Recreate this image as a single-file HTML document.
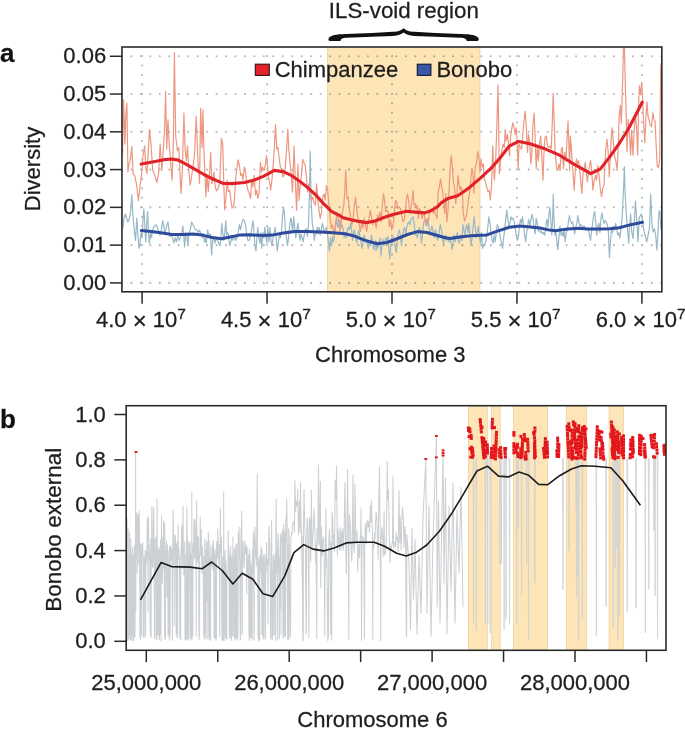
<!DOCTYPE html>
<html><head><meta charset="utf-8"><title>Figure</title>
<style>html,body{margin:0;padding:0;background:#fff;}body{width:685px;height:732px;overflow:hidden;font-family:"Liberation Sans",sans-serif;}svg{display:block;}text{stroke:#1e1e1e;stroke-width:0.28px;}</style>
</head><body>
<svg width="685" height="732" viewBox="0 0 685 732" font-family='"Liberation Sans", sans-serif'>
<clipPath id="ca"><rect x="121.95" y="47" width="539.9" height="244.8"/></clipPath>
<clipPath id="cb"><rect x="126.2" y="405.7" width="539.8" height="244.6"/></clipPath>
<g stroke="#b8b8b8" stroke-width="2.1" stroke-linecap="round" fill="none" stroke-dasharray="0.01 9.45">
<line x1="121.95" y1="282.9" x2="661.85" y2="282.9" stroke-dashoffset="0"/>
<line x1="121.95" y1="245.13" x2="661.85" y2="245.13" stroke-dashoffset="0"/>
<line x1="121.95" y1="207.36" x2="661.85" y2="207.36" stroke-dashoffset="0"/>
<line x1="121.95" y1="169.59" x2="661.85" y2="169.59" stroke-dashoffset="0"/>
<line x1="121.95" y1="131.82" x2="661.85" y2="131.82" stroke-dashoffset="0"/>
<line x1="121.95" y1="94.05" x2="661.85" y2="94.05" stroke-dashoffset="0"/>
<line x1="121.95" y1="56.28" x2="661.85" y2="56.28" stroke-dashoffset="0"/>
<line x1="142.1" y1="291.8" x2="142.1" y2="47" stroke-dasharray="0.01 9.44" stroke-dashoffset="0.49"/>
<line x1="267.05" y1="291.8" x2="267.05" y2="47" stroke-dasharray="0.01 9.44" stroke-dashoffset="0.49"/>
<line x1="392" y1="291.8" x2="392" y2="47" stroke-dasharray="0.01 9.44" stroke-dashoffset="0.49"/>
<line x1="516.95" y1="291.8" x2="516.95" y2="47" stroke-dasharray="0.01 9.44" stroke-dashoffset="0.49"/>
<line x1="641.9" y1="291.8" x2="641.9" y2="47" stroke-dasharray="0.01 9.44" stroke-dashoffset="0.49"/>
</g>
<g style="mix-blend-mode:multiply"><rect x="327.4" y="47" width="152.6" height="244.8" fill="#fde5b8"/>
<line x1="327.4" y1="47" x2="327.4" y2="291.8" stroke="#efc98f" stroke-width="0.7"/>
<line x1="480.0" y1="47" x2="480.0" y2="291.8" stroke="#efc98f" stroke-width="0.7"/></g>
<g clip-path="url(#ca)" fill="none" stroke-linejoin="round">
<polyline points="122.9,228.6 123.9,218.1 125.3,214.2 126.6,218.1 127.9,222 129.2,219.4 130.5,212.8 131.8,194.5 132.9,214.2 134.2,229.9 135.5,240.4 136.8,218.1 137.9,235.2 139.1,248.3 140,243.1 141,232.6 142.1,237.8 143,219.4 143.9,208.9 145,229.9 145.8,241.8 146.7,223.4 147.6,211.5 148.5,232.6 149.4,243.1 150.5,232.6 151.5,237.8 152.6,229.9 153.6,227.3 154.8,226 156.1,224.7 157.4,227.3 158.8,232.6 160.1,235.2 161.4,229.9 162.7,220.7 163.8,226 164.7,233.9 165.7,229.9 166.8,224.7 168,222 168.9,229.9 169.9,236.5 171.2,235.2 172.6,237.8 173.9,243.1 175.2,237.8 176.5,241.8 177.8,235.2 179.1,240.4 180.4,237.8 181.8,232.6 182.8,226 183.7,235.2 184.6,247 185.7,232.6 186.7,235.2 187.8,244.4 189,232.6 190.3,229.9 191.6,222 192.9,224.7 194.2,227.3 195.5,229.9 196.9,229.9 198.2,232.6 199.5,229.9 200.8,233.9 202.1,237.8 203.4,233.9 204.5,241.8 205,237.8 206.3,243.1 207.6,229.9 208.9,235.2 210.3,233.9 211.6,254.9 212.6,240.4 213.7,237.8 214.9,243.1 216.2,237.8 217.5,240.4 218.8,243.1 220.1,245.7 221,236.5 221.8,223.4 222.7,232.6 223.7,240.4 224.7,233.9 225.8,220.7 226.7,235.2 227.6,232.6 228.6,235.2 229.7,245.7 230.8,241.8 231.9,237.8 233.2,240.4 234.6,236.5 235.9,240.4 237.2,237.8 238.5,229.9 239.4,224.7 240.5,229.9 241.8,223.4 243.1,219.4 244.4,220.7 245.7,226 246.8,235.2 247.8,240.4 249,240.4 250.3,237.8 251.6,229.9 253,220.7 253.9,229.9 254.9,245.7 256,250.9 256.9,237.8 257.8,227.3 258.9,237.8 259.9,243.1 260.8,232.6 261.8,248.3 262.8,232.6 263.9,237.8 264.8,227.3 265.7,235.2 266.8,243.1 267.8,227.3 268.9,241.8 269.9,227.3 271,240.4 272,245.7 273.1,237.8 274.1,232.6 275.2,227.3 276.2,237.8 277.3,250.9 278.3,243.1 279.4,235.2 280.4,237.8 281.5,232.6 282.5,216.8 283.6,207.6 284.5,214.2 285.4,229.9 286.5,237.8 287.5,245.7 288.6,237.8 289.6,226 290.7,218.1 291.3,219.4 292.6,232.6 293.7,216.8 294.7,227.3 295.8,237.8 296.8,229.9 297.9,223.4 298.9,232.6 300,240.4 301,233.9 302.1,237.8 303.1,241.8 304.2,235.2 305.2,229.9 306.3,228.6 307.3,236.5 308.4,226 309.3,199.7 310.2,151.1 310.9,187.9 311.4,206.3 312.3,223.4 313.3,229.9 314.3,240.4 315.4,232.6 316.3,233.9 317.3,227.3 318.2,233.9 319.2,227.3 320.2,235.2 321.3,229.9 322.2,223.4 323.1,226 324.2,232.6 325.2,229.9 326.3,227.3 327.3,232.6 328.4,241.8 329.4,250.9 330.5,237.8 331.5,245.7 332.6,236.5 333.6,241.8 334.7,232.6 335.7,226 336.8,219.4 337.8,227.3 338.9,224.7 339.9,219.4 341,227.3 342,224.7 343.1,228.6 344.1,237.8 345.2,232.6 346.2,237.8 347.3,229.9 348.3,227.3 349.4,229.9 350.4,223.4 351.5,228.6 352.5,240.4 353.6,232.6 354.6,229.9 355.7,237.8 356.7,243.1 357.8,235.2 358.8,229.9 359.9,236.5 360.9,241.8 362,248.3 363.1,241.8 364.1,235.2 365.2,239.1 366.2,243.1 367.3,240.4 368.3,248.3 369.4,240.4 370.4,245.7 371.5,235.2 372.5,240.4 373.6,249.6 374.6,245.7 375.7,240.4 376,250.9 377,241.8 377.9,248.3 378.9,243.1 380,237.8 380.9,256.2 381.8,247 382.9,239.1 383.9,245.7 384.9,241.8 385.8,237.8 386.8,240.4 387.9,236.5 388.8,248.3 389.7,258.8 390.5,249.6 391.4,237.8 392.3,243.1 393.4,236.5 394.4,241.8 395.4,248.3 396.3,252.3 397.3,241.8 398.4,232.6 399.4,229.9 400.5,236.5 401.5,245.7 402.6,235.2 403.6,229.9 404.7,227.3 405.7,235.2 406.8,227.3 407.8,223.4 408.9,222 409.9,224.7 411,219.4 412.1,218.1 413.1,216.8 414.2,223.4 415.2,235.2 416.3,232.6 417.3,237.8 418.4,232.6 419.4,227.3 420.5,232.6 421.5,243.1 422.6,233.9 423.6,223.4 424.7,219.4 425.7,222 426.8,226 427.8,219.4 428.9,226 429.9,235.2 431,229.9 432,226 433.1,232.6 434.1,237.8 435.2,229.9 436.2,232.6 437.3,240.4 438.3,237.8 439.4,229.9 440.4,224.7 441.5,229.9 442.5,239.1 443.6,244.4 444.6,237.8 445.7,235.2 446.7,240.4 447.8,236.5 448.8,241.8 449.9,237.8 450.9,241.8 452,249.6 453,243.1 454.1,235.2 455.1,241.8 456.2,237.8 457.2,232.6 458.3,240.4 459.4,243.1 460.4,237.8 461.1,235.2 462,240.4 462.9,224.7 463.9,229.9 465,235.2 465.9,227.3 466.8,224.7 467.9,232.6 468.9,223.4 470,235.2 471,245.7 472.1,237.8 473.1,226 474.2,216.8 475.2,227.3 476.3,237.8 477.3,232.6 478.4,226 479.4,236.5 480.5,243.1 481.5,232.6 482.6,248.3 483.7,244.4 484.7,245.7 485.8,240.4 486.8,235.2 487.9,226 488.9,216.8 490,223.4 491,232.6 492.1,240.4 493.1,243.1 494.2,235.2 495.2,241.8 496.3,232.6 497.3,224.7 498.4,227.3 499.4,232.6 500.5,237.8 501.5,243.1 502.6,248.3 503.6,237.8 504.7,229.9 505.7,219.4 506.8,210.2 507.8,219.4 508.9,226 509.9,223.4 511,216.8 512,219.4 513.1,218.1 514.1,220.7 515.2,227.3 516.2,235.2 517.3,240.4 518.3,237.8 519.4,227.3 520.4,219.4 521.5,223.4 522.5,216.8 523.6,226 524.6,235.2 525.7,241.8 526.7,232.6 527.8,224.7 528.8,219.4 529.9,226 531,219.4 532,214.2 533.1,219.4 534.1,227.3 535.2,233.9 536.2,218.1 537.3,223.4 538.3,231.2 539.4,229.9 540.4,232.6 541.5,231.2 542.5,233.9 543.6,232.6 544.6,235.2 545.7,229.9 546.1,223.4 547,219.4 547.9,227.3 548.9,214.2 550,207.6 550.9,222 551.8,235.2 552.6,219.4 553.3,194.5 553.9,216.8 554.9,235.2 555.8,231.2 556.8,240.4 557.9,249.6 558.9,237.8 560,226 561,235.2 562.1,232.6 563.1,236.5 564.2,229.9 565.2,241.8 566.3,232.6 567.3,229.9 568.4,222 569.4,215.5 570.5,220.7 571.5,223.4 572.6,222 573.6,227.3 574.7,233.9 575.7,227.3 576.8,223.4 577.8,215.5 578.9,222 579.9,226 581,224.7 582.1,226 583.1,227.3 584.2,226 585.2,227.3 586.3,228.6 587.3,229.9 588.4,228.6 589.4,235.2 590.5,240.4 591.5,232.6 592.6,223.4 593.6,215.5 594.7,211.5 595.7,222 596.8,235.2 597.8,226 598.9,223.4 599.9,232.6 601,218.1 602,212.8 603.1,219.4 604.1,223.4 605.2,220.7 606.2,222 607.3,224.7 608.3,229.9 609.4,257.5 610.4,241.8 611.5,229.9 612.5,232.6 613.6,226 614.6,229.9 615.7,223.4 616.7,229.9 617.8,235.2 618.8,232.6 619.9,237.8 620.9,229.9 622,219.4 623,199.7 623.8,182.6 624.4,166.5 625.1,193.1 625.9,206.3 626.7,219.4 627.8,232.6 628.8,243.1 629.4,228.7 630.6,213.9 631.7,232 633,238.5 634.3,220.5 635.5,200.8 636.6,218.9 638,241.8 639.3,217.2 640.4,215.6 641.6,213.9 642.9,223.8 644.2,232 645.5,236.9 646.8,241.8 648.1,235.2 649.4,228.7 650.7,194.3 651.9,223.8 653,232 654.3,228.7 655.7,235.2 656.8,250 658,232 658.9,212.3 659.9,210.7 660.9,228.7 662.5,225" stroke="#98b8c8" stroke-width="1.2"/>
<polyline points="122.5,154 123.6,99.9 124.9,144.2 125.7,116.3 126.9,103.2 127.9,172 129,163.9 130.2,160.6 131.8,146.6 133.1,173.7 134.8,176.1 136.4,183.5 138.4,200.7 140,186.8 141.3,177 143,155.7 144.6,145.8 145.9,168.8 147,173.7 148.2,154 149.5,129.4 151.1,145.8 152.8,170.4 154.8,175.3 156.9,182.7 158.5,173.7 160.2,144.2 161.8,170.4 163.4,149.1 164.6,127.8 165.6,91.4 166.7,149.1 168,119.6 169.2,144.2 170.8,163.9 172.1,180.2 173.3,144.2 174.4,52.6 175.7,136 177.4,150.7 178.7,147.5 179.8,168.8 181,193.4 182.3,172 183.9,113 185.2,150.7 186.4,160.6 187.5,145.8 188.9,172 190.2,185.2 191.5,177 193,167.1 194.6,154 196.2,116.3 197.9,160.6 199.5,183.5 200.7,108.1 202,147.5 203,109.8 203.9,152.4 205,173.7 205.8,196.6 207,175.3 208.3,191.7 209.6,173.7 210.7,152.4 211.9,183.5 212.9,180.2 214,172 215.2,186.8 216.5,190.9 218.1,188.4 219.8,181.9 221.4,138.4 222.7,144.2 223.9,186.8 224.7,209.8 226,196.6 227.1,180.2 228.3,191.7 229.6,190.1 230.9,199.9 232,208.1 233.7,206.5 234.8,193.4 235.8,177 237,167.1 238.1,159.8 239.4,165.5 240.7,175.3 241.9,173.7 243,180.2 244.3,167.1 245.7,172 246.8,185.2 247.9,190.1 249.3,193.4 250.6,198.3 251.7,180.2 252.9,186.8 254.2,175.3 255.5,195 256.6,190.1 257.8,198.3 259.1,193.4 260.4,162.2 261.6,172 262.7,167.1 264,170.4 265.3,165.5 266.5,155.7 267.6,167.1 268.6,177 269.8,183.5 270.6,190.1 271.9,180.2 273,167.1 274.2,150.7 275.5,124.5 276.8,149.1 278,147.5 279.1,157.3 280.4,167.1 281.7,168.8 282.9,177 284,175.3 285.3,167.1 286.6,149.1 287.8,129.4 288.9,150.7 290,162.6 291.3,175.7 292.5,192.1 294.1,146.2 295.2,179 296.6,210.2 297.9,164.3 299,200.3 300.2,185.6 301.5,174.1 302.8,159.3 303.9,162.6 305.1,164.3 306.4,177.4 307.7,192.1 308.9,183.9 310,193.8 311.3,200.3 312.6,197 313.8,202 315.4,205.2 316.6,183.9 317.9,200.3 319.2,211.8 320.3,218.4 321.5,211.8 322.8,197 324.1,193.8 325.2,200.3 326.4,185.6 327.7,190.5 329,206.9 330.2,218.4 331.3,228.2 332.6,224.9 333.9,234.8 335.1,228.2 336.2,218.4 337.5,213.4 338.9,221.6 340,231.5 341.1,223.3 342.5,211.8 343.8,205.2 344.9,188.9 345.7,170 347,198.7 348.2,197 349.3,208.5 350.7,218.4 352,224.9 353.1,218.4 354.3,205.2 355.6,197 356.9,211.8 358,218.4 359.2,224.9 360.5,231.5 361.8,221.6 363,228.2 364.1,218.4 365.4,224.9 366.7,231.5 367.9,221.6 369,218.4 370.3,210.2 371.6,218.4 372.8,224.9 373.9,220 375,221.6 376.3,228.2 377.5,215.1 378.6,218.4 379.9,211.8 381.2,221.6 382.4,205.2 383.5,193.8 384.5,200.3 385.7,211.8 386.8,210.2 388.1,211.8 389.4,226.6 390.6,220 391.7,229.8 393,226.6 394.3,213.4 395.5,200.3 396.6,202 398,208.5 399.3,206.9 400.4,208.5 401.6,215.1 402.9,221.6 404.2,220 405.3,211.8 406.5,198.7 407.5,193.8 408.6,200.3 409.8,213.4 411.1,206.9 412.4,197 413,190.5 414,205.2 415.2,203.6 416.3,208.5 417.3,205.2 418.4,218.4 419.6,208.5 420.9,213.4 422.2,218.4 423.4,213.4 424.5,215.1 425.8,224.9 427.1,218.4 428.3,221.6 429.4,213.4 430.7,211.8 432,208.5 433.2,213.4 434.3,210.2 435.7,215.1 437,218.4 438.1,192.1 439.3,187.2 440.6,179 441.4,185.6 442.5,190.5 443.5,200.3 444.7,213.4 445.8,193.8 446.8,221.6 448,211.8 449.1,188.9 450.1,169.2 451.2,155.2 452,162.6 453.4,182.3 454.5,187.2 455.7,203.6 457,192.1 458,175.7 458.9,182.3 460,190.1 461.3,186.8 462.5,193.4 463.3,213 464.5,221 466.6,214.7 468.2,201.6 469.5,193.4 470.7,181.9 471.8,168.8 472.8,172 473.9,193.4 475.1,167.1 476.4,163.9 477.7,151.6 478.9,157.3 480,172 481,158.9 482.1,167.1 483.3,163.9 484.3,178.6 485.4,181.9 486.6,186.8 487.9,191.7 489.2,190.1 490.3,200 491.5,186.8 492.8,145.8 493.6,167.1 494.4,180.2 495.7,160.6 496.9,124.5 498,85 498.7,127.8 499.3,173.7 500.7,160.6 501.8,150.7 503,144.2 504.3,147.5 505.2,129.4 506.2,140.9 507.5,134.3 508.5,144.2 509.5,155.7 510.5,137.6 511.6,129.4 512.8,122.9 514.1,127.8 515.1,134.3 516.1,127.8 517,139.3 518.2,168.8 519,144.2 520.3,147.5 521.5,149.1 522.6,137.6 523.9,121.2 525.2,111.4 526.4,127.8 527.5,152.4 528.5,134.3 529.7,142.5 530.8,163.9 531.8,154 533,124.5 534.1,113 535.1,136 536.2,168.8 537.4,147.5 538.4,160.6 539.5,144.2 540.7,136 542,160.6 543,180.2 543.9,154 545,137.6 546.3,136 547.5,145.8 548.6,147.5 549.9,145.8 551.2,149.1 552.4,119.6 553.2,93 554.2,122.9 555.2,152.4 556.5,167.1 557.8,170.4 558.9,163.9 560.1,170.4 561.4,149.1 562.4,147.5 563.4,168.8 564.7,152.4 566,160.6 567.1,137.6 568,121.2 568.9,144.2 569.6,170.4 570.4,136 571.6,152.4 572.9,172 574.2,190.1 575.3,168.8 576.5,158.9 577.5,163.9 578.6,160.6 579.8,170.4 580.7,180.2 581.9,193.4 583,173.7 584.3,168.8 585.3,162.2 586.3,172 587.3,181.9 588.4,173.7 589.6,165.5 590.6,160.6 591.7,170.4 592.9,190.1 594.2,180.2 595.5,175.3 596.6,180.2 597.8,165.5 599.1,175.3 600.4,190.1 601.6,196.6 602.7,188.4 604,185.2 605,160.6 606,147.5 607,139.3 608.1,150.7 609.3,177 610.2,158.9 611.4,134.3 612.2,127.8 613.5,144.2 614.7,157.3 615.8,160.6 617.1,170.4 618.4,144.2 619.2,116 620.4,105.4 621.3,123.2 622.7,80.5 623.4,48.6 624.5,48.6 625.2,80.5 626.3,119.6 627,151.6 628.1,119.6 629.3,133.8 630.6,155.1 631.6,130.3 632.9,155.1 634.1,130.3 635.5,116 636.6,128.5 637.7,155.1 638.7,101.8 639.4,85.9 640.5,94.7 641.7,82.3 642.6,98.3 643.7,124.9 644.8,142.7 645.8,119.6 646.9,101.8 648,116 649,119.6 650.1,124.9 651.5,126.7 652.9,112.5 654,119.6 655.1,121.4 656.1,144.5 657.2,165.8 658.6,167.6 659.7,158.7 660.7,66.3 661.5,62.8 662.5,60" stroke="#ee9780" stroke-width="1.2"/>
</g>
<polyline points="141.4,230.6 151.1,231.5 160.7,232.7 171.9,234.6 183.2,234.6 192.8,234 202.4,235.1 212.1,237.5 221.7,238.8 231.4,236.7 239.4,235.1 249.6,234.8 262.5,235.6 272.1,235.1 283.4,233 294.6,231.5 307.4,231.5 320.3,231.9 333.1,232.7 345,233.7 354.6,236.1 364.3,240.1 377.1,243.8 386.8,242.5 396.4,239 407.6,234.5 417.3,231.6 426.9,232.5 436.5,235.3 446.2,238 450,238.6 459.6,237 470.9,235.7 486.9,234.9 498.2,230.9 509.4,227.3 519.9,226.1 530.3,226.9 539.9,228 549.6,230.1 555,230.7 567.8,229.1 579.1,228.3 587.1,229.1 600,229.1 609.6,228.8 619.2,227.8 628.9,225.1 642.5,222.3" fill="none" stroke="#2e4b9b" stroke-width="3.0" stroke-linecap="round" stroke-linejoin="round"/>
<polyline points="141.2,164.1 155,161.5 165,159.6 171.8,159 178.2,160.1 184.6,163.3 194.2,168.9 203.9,174.5 213.5,179.3 223.1,183.4 232,183.6 244.6,182.5 254.3,180.1 263.9,176.1 274.3,170.4 283.2,171.6 291.2,175.3 299.2,180.9 307.3,187.3 315.3,194.5 323.3,203.4 331.4,211.4 339.4,215.4 343,217.7 351.1,219.8 359.1,221.4 366.3,222.6 375.1,221 383.2,217.7 391.2,215 399.2,212.9 406.5,211.3 415.3,212.1 424.9,212.9 431.4,210.5 437.8,206.5 441,203 448,198.4 457.7,195.7 468.9,188 480.1,178.4 491.4,167.9 501,156.7 509.1,146.2 518.7,141.4 529.9,143.8 539.6,147 545,148.8 559.5,155.2 573.9,164.1 590.8,173.7 600.4,168.9 609.2,157.6 618.9,144 628.5,128.7 636.5,113.5 642.2,102.2" fill="none" stroke="#e0232a" stroke-width="3.1" stroke-linecap="round" stroke-linejoin="round"/>
<rect x="121.95" y="47" width="539.9" height="244.8" fill="none" stroke="#2a2a2a" stroke-width="1.6"/>
<line x1="109.9" y1="282.9" x2="121.95" y2="282.9" stroke="#2a2a2a" stroke-width="1.5"/>
<text x="106.2" y="290" text-anchor="end" font-size="22" fill="#1e1e1e">0.00</text>
<line x1="109.9" y1="245.13" x2="121.95" y2="245.13" stroke="#2a2a2a" stroke-width="1.5"/>
<text x="106.2" y="252.23" text-anchor="end" font-size="22" fill="#1e1e1e">0.01</text>
<line x1="109.9" y1="207.36" x2="121.95" y2="207.36" stroke="#2a2a2a" stroke-width="1.5"/>
<text x="106.2" y="214.46" text-anchor="end" font-size="22" fill="#1e1e1e">0.02</text>
<line x1="109.9" y1="169.59" x2="121.95" y2="169.59" stroke="#2a2a2a" stroke-width="1.5"/>
<text x="106.2" y="176.69" text-anchor="end" font-size="22" fill="#1e1e1e">0.03</text>
<line x1="109.9" y1="131.82" x2="121.95" y2="131.82" stroke="#2a2a2a" stroke-width="1.5"/>
<text x="106.2" y="138.92" text-anchor="end" font-size="22" fill="#1e1e1e">0.04</text>
<line x1="109.9" y1="94.05" x2="121.95" y2="94.05" stroke="#2a2a2a" stroke-width="1.5"/>
<text x="106.2" y="101.15" text-anchor="end" font-size="22" fill="#1e1e1e">0.05</text>
<line x1="109.9" y1="56.28" x2="121.95" y2="56.28" stroke="#2a2a2a" stroke-width="1.5"/>
<text x="106.2" y="63.38" text-anchor="end" font-size="22" fill="#1e1e1e">0.06</text>
<line x1="142.1" y1="291.8" x2="142.1" y2="303.7" stroke="#2a2a2a" stroke-width="1.5"/>
<text x="140.9" y="326.9" text-anchor="middle" font-size="22" fill="#1e1e1e">4.0 <tspan font-size="24" dy="1.9">×</tspan><tspan dy="-1.9"> 10</tspan><tspan dy="-8.3" font-size="15.5">7</tspan></text>
<line x1="267.05" y1="291.8" x2="267.05" y2="303.7" stroke="#2a2a2a" stroke-width="1.5"/>
<text x="265.85" y="326.9" text-anchor="middle" font-size="22" fill="#1e1e1e">4.5 <tspan font-size="24" dy="1.9">×</tspan><tspan dy="-1.9"> 10</tspan><tspan dy="-8.3" font-size="15.5">7</tspan></text>
<line x1="392" y1="291.8" x2="392" y2="303.7" stroke="#2a2a2a" stroke-width="1.5"/>
<text x="390.8" y="326.9" text-anchor="middle" font-size="22" fill="#1e1e1e">5.0 <tspan font-size="24" dy="1.9">×</tspan><tspan dy="-1.9"> 10</tspan><tspan dy="-8.3" font-size="15.5">7</tspan></text>
<line x1="516.95" y1="291.8" x2="516.95" y2="303.7" stroke="#2a2a2a" stroke-width="1.5"/>
<text x="515.75" y="326.9" text-anchor="middle" font-size="22" fill="#1e1e1e">5.5 <tspan font-size="24" dy="1.9">×</tspan><tspan dy="-1.9"> 10</tspan><tspan dy="-8.3" font-size="15.5">7</tspan></text>
<line x1="641.9" y1="291.8" x2="641.9" y2="303.7" stroke="#2a2a2a" stroke-width="1.5"/>
<text x="640.7" y="326.9" text-anchor="middle" font-size="22" fill="#1e1e1e">6.0 <tspan font-size="24" dy="1.9">×</tspan><tspan dy="-1.9"> 10</tspan><tspan dy="-8.3" font-size="15.5">7</tspan></text>
<text x="390.3" y="362" text-anchor="middle" font-size="22" fill="#1e1e1e">Chromosome 3</text>
<text transform="translate(39.6 169.0) rotate(-90)" text-anchor="middle" font-size="22" fill="#1e1e1e">Diversity</text>
<text x="0" y="62" font-size="26" font-weight="bold" fill="#111">a</text>
<rect x="255.3" y="64.2" width="14" height="11.2" fill="#e3222a" stroke="#3a1010" stroke-width="1.1"/>
<text x="274.7" y="77.0" font-size="22" fill="#1e1e1e">Chimpanzee</text>
<rect x="417.3" y="64.2" width="13.6" height="11.2" fill="#3a56a8" stroke="#101830" stroke-width="1.1"/>
<text x="436.4" y="77.0" font-size="22" fill="#1e1e1e">Bonobo</text>
<text x="403.85" y="17.8" text-anchor="middle" font-size="22.3" fill="#1e1e1e">ILS-void region</text>
<path d="M403.6 28.3 C401 30.5 398.5 31.6 393 31.8 L372 33.0 L346 34.1 C336 34.4 330 35.2 328.6 38.6 C328.2 40.0 328.6 41.0 330 41.0 L340.5 41.0 C340.6 39.0 342.5 38.0 347 37.8 L372 36.8 L393 35.9 C398 35.7 401.5 34.5 403.6 32.6 C405.7 34.5 409.2 35.7 414.2 35.9 L435.2 36.8 L460.2 37.8 C464.7 38.0 466.6 39.0 466.7 41.0 L477.2 41.0 C478.6 41.0 479 40.0 478.6 38.6 C477.2 35.2 471.2 34.4 461.2 34.1 L435.2 33.0 L414.2 31.8 C408.7 31.6 406.2 30.5 403.6 28.3 Z" fill="#111"/>
<rect x="468.3" y="405.7" width="19" height="244.6" fill="#fde5b8" stroke="#efc98f" stroke-width="0.6"/>
<rect x="491.5" y="405.7" width="8.7" height="244.6" fill="#fde5b8" stroke="#efc98f" stroke-width="0.6"/>
<rect x="513.4" y="405.7" width="34.2" height="244.6" fill="#fde5b8" stroke="#efc98f" stroke-width="0.6"/>
<rect x="566.2" y="405.7" width="20.3" height="244.6" fill="#fde5b8" stroke="#efc98f" stroke-width="0.6"/>
<rect x="609" y="405.7" width="14.6" height="244.6" fill="#fde5b8" stroke="#efc98f" stroke-width="0.6"/>
<g clip-path="url(#cb)" fill="none">
<polyline points="126,579.21 126.33,563.23 126.69,637.01 126.84,640.68 126.99,518.61 127.46,543.57 127.83,637.7 127.9,641.1 128.02,621.46 128.15,638.19 128.25,528.86 128.65,639.33 128.73,553.37 129.04,576.47 129.47,635.11 129.59,532.13 129.9,636 130,634.74 130.14,640.61 130.22,545.64 130.54,632.9 130.68,639.85 130.77,538.27 131.2,605.48 131.31,556.2 131.78,636.04 131.88,640.69 132.01,638.77 132.12,557.02 132.46,547.24 132.7,558.43 133.13,636.27 133.29,578.07 133.42,641.04 133.58,639.55 133.73,554.57 134.13,637.49 134.29,545 134.57,551.79 134.84,550.24 135.06,637.41 135.15,574.06 135.28,558.33 135.5,585.47 135.6,452.15 135.8,611.01 135.92,555.85 136.37,558.71 136.82,512.45 137.27,573.53 137.59,541.66 137.96,516.34 138.33,514.15 138.81,564.55 139.21,510.46 139.57,549.46 139.98,638.03 140.07,556.62 140.41,543.75 140.62,639.92 140.71,556.75 141.09,543.51 141.48,635.82 141.63,559.09 141.94,554.83 142.28,545.91 142.72,542.51 142.97,555.15 143.25,637.04 143.36,607.81 143.48,635.36 143.55,561.71 143.97,638.21 144.05,556.6 144.32,637.02 144.43,564.7 144.89,570.68 145.15,551.15 145.49,550.27 145.74,636.56 145.86,551.42 146.28,564.36 146.51,553.02 146.83,558.35 147.28,516.53 147.73,538.74 148.11,612.64 148.24,556.57 148.5,517.71 148.85,555.97 149.14,544.63 149.37,560.83 149.73,554.71 150.15,631.67 150.25,551.49 150.49,636.38 150.65,538.05 151.11,637.72 151.21,556.63 151.59,542.92 151.87,505.86 152.32,565.12 152.76,567.92 153.02,554.32 153.36,519.42 153.7,507.53 154.06,546.18 154.45,638.48 154.61,553.62 154.85,537.91 155.28,562.73 155.53,550.36 155.99,636.09 156.08,639.11 156.18,536.02 156.42,539.63 156.69,638.33 156.8,640.21 157.1,498.42 157.33,563.76 157.77,612.87 157.92,635.02 158.01,546.99 158.28,556.43 158.56,624.33 158.7,636.64 158.78,635.1 158.94,636.14 159.06,550.34 159.29,637.8 159.42,639.91 159.57,547.72 160.03,634.83 160.14,558.67 160.49,539.8 160.85,635.56 160.94,624.81 161.03,641.2 161.19,559.18 161.56,515.27 161.91,576.02 162.33,583.69 162.47,574.32 162.92,537.45 163.33,568.89 163.55,520.39 163.76,541.19 164.14,548.99 164.52,637.42 164.64,587.86 164.78,522.56 165.25,636.27 165.35,639.97 165.46,635.14 165.58,590.9 165.75,550.61 166.11,557.07 166.33,544.9 166.58,540.57 166.95,596.91 167.07,559.28 167.45,544.85 167.73,553.12 168,636.17 168.11,550.53 168.52,575.53 168.6,565.4 169.07,634.92 169.21,580.74 169.34,638.2 169.43,640.45 169.54,546.51 169.87,638.45 170.01,575.19 170.16,635.23 170.3,558.92 170.69,544.97 171.06,552.5 171.33,560.77 171.78,548.42 172.06,551.63 172.43,640.81 172.51,569.47 172.82,558.26 173.08,509.5 173.51,534.4 173.94,551.78 174.26,625.89 174.39,561.4 174.68,553.52 175,535.36 175.44,535.94 175.8,580.97 176.19,634.52 176.28,543.66 176.68,547.71 176.97,636.36 177.07,637.43 177.23,541.49 177.65,638.58 177.81,559.91 178.09,524.69 178.39,559.25 178.75,547.69 179.1,560.21 179.51,556.04 179.79,637.6 179.91,566.18 180.13,571.41 180.55,636.29 180.71,640.32 180.85,552.86 181.26,544.33 181.68,525.88 182.14,568.65 182.54,552.57 183,506.1 183.38,545.1 183.83,575.44 184.21,558.84 184.52,575.04 184.77,541.21 185.02,639.31 185.18,640.52 185.31,554 185.57,637.33 185.73,640.04 185.82,637.25 185.91,640.13 186.05,635.74 186.17,576.76 186.27,594.38 186.37,581.37 186.48,639.43 186.64,553.23 186.97,507.24 187.37,551.57 187.62,639.53 187.77,634.54 187.87,636.06 187.94,540.26 188.17,640.64 188.28,590.14 188.44,624.47 188.6,630.62 188.72,635.64 188.82,639.22 188.94,572.55 189.24,543.66 189.57,545.81 190,541.43 190.39,638.18 190.47,552.61 190.89,639.32 191,639 191.1,553.92 191.51,591.11 191.65,634.04 191.73,636.48 191.8,491.61 191.9,640.46 192.01,596.65 192.13,545.3 192.54,562.08 192.86,636.54 193.02,546.31 193.41,542.57 193.71,552.4 193.94,519.04 194.36,559.33 194.77,558.46 195.12,519.42 195.36,538.8 195.76,555.04 196.02,559.58 196.25,636.56 196.35,559.75 196.6,500.68 196.89,530.21 197.25,562.94 197.7,557.5 198.12,537.2 198.41,537.7 198.67,550.04 199.03,640.07 199.19,560.93 199.58,636.28 199.68,553.22 199.94,556.12 200.19,516.57 200.44,555.4 200.73,537.93 200.95,534.67 201.31,529.17 201.63,561.93 202.04,573.64 202.51,546.33 202.83,564.3 203.28,567.34 203.73,636.36 203.89,556.35 204.26,559.95 204.48,637.88 204.59,637.72 204.68,639.7 204.76,538.59 205.23,545.66 205.65,620.05 205.81,633.11 205.93,564.14 206.14,639.09 206.21,549.43 206.51,565.98 206.73,601.52 206.85,540.53 207.11,577.47 207.2,556.53 207.5,542.45 207.97,640 208.13,636.36 208.23,531.96 208.67,541.9 209.13,540.24 209.36,636.47 209.45,636.78 209.59,635.28 209.72,634.99 209.85,640.69 210.02,637.69 210.1,556.79 210.52,636.16 210.61,640.03 210.77,545.54 210.98,554.77 211.44,567.14 211.69,562.09 212.08,564.2 212.42,544.24 212.77,570.59 213.02,546.29 213.29,540.28 213.7,552.68 214.04,637.91 214.11,563.9 214.51,549.6 214.75,638.34 214.87,634.63 215.03,560.75 215.38,554.62 215.67,637.07 215.79,640.7 215.94,640.21 216.07,548.2 216.49,638.82 216.58,541.27 217,551.48 217.24,555.4 217.51,558.83 217.75,528.71 218.07,540.24 218.55,556.29 218.82,564.38 219.09,544.61 219.38,560.33 219.75,636.88 219.83,635.42 219.96,567.61 220.39,507.6 220.65,552.64 220.91,551.23 221.17,548.37 221.46,536.81 221.9,640.8 222.03,641.17 222.12,635.02 222.26,640.26 222.42,615.43 222.58,638.68 222.66,556.48 222.95,559.88 223.26,640.27 223.39,638.41 223.52,639.53 223.7,491.61 223.9,636.45 224.01,630.1 224.11,641.02 224.18,576.58 224.65,635.05 224.74,564.99 225.13,549.71 225.51,638.63 225.58,637.92 225.68,638.07 225.77,562.64 226.04,638.43 226.12,560.72 226.52,638.82 226.59,637.93 226.72,639.58 226.8,590.99 226.89,571.12 227.15,579.27 227.45,576.61 227.91,568.19 228.22,530.15 228.65,568.61 228.96,549.62 229.3,634.65 229.39,636.67 229.48,638.62 229.58,637.57 229.71,554.63 230.14,562.03 230.58,636.57 230.72,546.35 231.15,637.96 231.27,636.2 231.4,639.09 231.48,640.87 231.56,640.53 231.68,563.78 232.12,555.54 232.34,635.88 232.44,556.7 232.74,611.92 232.89,536.73 233.21,573.38 233.63,636.75 233.72,637.32 233.88,573.02 234.12,572.03 234.43,548.09 234.91,640.49 234.98,607.47 235.07,637.61 235.18,635.85 235.33,637.1 235.48,571.49 235.83,544.48 236.07,634.95 236.17,639.1 236.24,545.99 236.52,638.81 236.62,635.23 236.72,638.01 236.88,622.49 237,543.17 237.31,636.83 237.44,578.79 237.6,615.39 237.69,640.49 237.77,627.62 237.89,634.77 237.96,613.4 238.11,612.36 238.25,532.36 238.56,538.93 238.84,540.87 239.1,526.48 239.48,554.7 239.79,563.28 240.24,639.02 240.38,620.66 240.52,640.33 240.62,637.88 240.73,634.82 240.82,549.22 241.11,528.56 241.43,534.04 241.7,511 241.95,570.71 242.24,634.57 242.33,584.56 242.63,553.34 243.08,540.65 243.45,563.06 243.89,560.05 244.21,568.29 244.48,551.6 244.84,540.43 245.16,554.1 245.53,549.55 246,546.25 246.29,545.1 246.73,594.04 246.83,558.62 247.21,547.16 247.55,577.43 247.77,560.12 248.2,567.1 248.55,554.57 248.92,635.94 249.04,611.55 249.19,581.56 249.27,641.05 249.38,548.48 249.81,638.66 249.96,554.13 250.43,635.34 250.57,638.37 250.65,637.02 250.75,560.92 251.14,636.58 251.25,634.9 251.38,634.53 251.52,565.07 251.84,638.41 251.99,637.85 252.15,639.7 252.27,628.32 252.43,550.01 252.75,573.97 253.12,545 253.34,531.34 253.67,563.52 254.05,640.4 254.21,638.98 254.36,539.93 254.72,536.94 254.95,526.97 255.35,543.1 255.65,556.16 256.03,559.7 256.33,566.46 256.7,542.07 257.2,473.47 257.55,545.02 258.02,638.57 258.16,605.53 258.26,636.25 258.34,637.06 258.48,615.21 258.63,641.19 258.78,557.59 259.08,561.56 259.43,627.87 259.55,640.42 259.63,636.01 259.73,639.82 259.84,583.67 260.07,554.07 260.32,572.88 260.69,562.41 261.16,546.43 261.4,562.58 261.65,580.34 261.86,634.73 261.99,548.45 262.22,635.05 262.32,635.27 262.48,557.32 262.82,569.42 263.23,638.38 263.34,638.23 263.42,554.85 263.64,573.45 263.91,639.16 264.02,622.39 264.1,613.8 264.22,565.3 264.53,568.87 264.9,554.07 265.19,582.69 265.4,639.46 265.55,624.9 265.65,564.19 265.88,556.69 266.17,571.94 266.59,542.53 266.8,555.06 267.16,564.28 267.62,564.76 267.98,624.43 268.11,558.63 268.53,565.49 268.94,525.85 269.26,532.69 269.67,543.64 270.1,569.39 270.33,591.21 270.49,637.65 270.64,622.84 270.72,636.71 270.88,638.66 271.02,631.85 271.15,640.19 271.25,565.76 271.6,519.48 272.03,576.48 272.5,639.71 272.6,570.42 272.96,635.69 273.07,578.29 273.42,554.86 273.88,570.26 274.28,635.53 274.36,559.73 274.72,563.49 275.18,552.99 275.6,630.32 275.69,640.48 275.84,535.32 276.23,498.73 276.63,573.65 277.07,557.11 277.28,546.5 277.55,640.4 277.67,639.41 277.79,541.87 278.22,533.54 278.57,571.76 279.03,557.1 279.3,599.28 279.45,638.78 279.59,568.38 279.89,609.58 280.05,552.12 280.27,538.29 280.51,541.2 280.8,533.25 281.02,634.61 281.16,542.85 281.57,535.65 281.83,541.64 282.13,541.97 282.45,529.34 282.67,578.71 283.03,639.02 283.17,558.49 283.64,523.91 284.1,637.28 284.23,556.14 284.6,531.47 285.07,635.39 285.23,635.65 285.37,636.15 285.53,635.9 285.7,534.56 286.04,514.99 286.28,543.11 286.68,499.13 287.08,522.1 287.64,639.58 287.79,544.62 288.3,639.57 288.52,639.25 288.67,528.37 289.23,543.07 289.86,638.48 290.12,635.1 290.39,635.93 290.63,625.58 290.79,536.19 291.45,532.44 292,535.08 292.36,525.4 293.08,522.49 293.82,521.79 294.47,532.45 294.89,480.38 295.62,511.6 296.12,501.05 296.87,505.85 297.36,499.78 297.78,488.56 298.36,535.23 299.04,523.88 299.47,500.42 300.15,532.85 300.5,482.54 300.88,513.63 301.49,534.47 302.04,574.16 302.16,536.03 302.57,630.53 302.7,622.05 302.92,641.2 303.09,637.09 303.26,639.14 303.44,529.44 304.04,489.32 304.59,523.12 305.36,539.56 306.1,634.6 306.27,629.83 306.48,602.49 306.62,545.98 307.18,517.7 307.76,521.14 308.33,555.43 308.89,638.02 309.11,545.79 309.59,517.27 310.3,522.53 310.76,561.75 311.34,490.1 312.12,550.47 312.86,536.13 313.36,531.27 314.08,508.49 314.85,531.25 315.58,563.4 316.01,543.3 316.79,638.97 317.04,528.5 317.82,543.95 318.48,464.46 319.24,545.74 319.68,538.95 320.32,480.89 320.7,588.12 321.42,526.41 322.22,555.88 322.8,542.85 323.23,537.85 323.7,536.56 324.3,564.97 324.78,636.63 325.06,576.87 325.24,570.48 325.96,508.61 326.57,568.06 326.94,557.53 327.65,637.35 327.82,640.95 328,587.97 328.2,638.08 328.48,636.63 328.74,543.19 329.4,528.84 330.02,545.89 330.64,635.08 330.79,542.24 331.5,617.67 331.74,640.57 331.95,512.57 332.74,520.05 333.23,545.78 333.8,534.5 334.52,552.09 335.18,480.37 335.61,494.77 335.98,499.74 336.57,465.45 337.35,556.72 338.01,528.4 338.52,537.31 339.31,550.2 340.11,527.23 340.87,550.62 341.45,530.69 341.97,547.34 342.72,527.94 343.32,550.43 344.14,530.47 344.9,481.66 345.63,541.23 346.33,574.3 346.92,530.47 347.5,468.93 348.1,517.76 348.86,639.8 349.06,532.92 349.53,514.48 350.32,526.72 350.89,541.27 351.64,561.79 352.14,553.83 353.01,474.97 353.55,542.46 354.41,553.14 355.04,484.09 355.87,542.99 356.39,542.81 357.08,530.25 357.73,571.78 358.29,552 358.71,543.73 359.51,558.35 360.03,538.26 360.61,535.55 361.06,507.87 361.57,640.72 361.85,562.37 362.37,536.03 363.17,538.43 363.67,539.41 364.5,639.17 364.72,548.98 365.4,522.95 365.9,535.67 366.36,544.4 366.97,519.68 367.83,527.33 368.59,521 369.44,532.38 369.94,519.05 370.36,505.33 371.03,522.74 371.47,500.25 372.38,531.47 372.82,640.1 373.01,540.09 373.76,549.21 374.45,533.12 375.03,539.47 375.44,523.66 376.14,511.89 376.78,515.5 377.34,536.11 378.09,560.22 378.75,499.13 379.5,466.66 380.22,541.22 380.74,641.08 381.03,540.12 381.89,527.3 382.65,538.78 383.26,556.75 384.13,510.93 384.57,554.54 385.49,553.31 386.35,540.5 387.29,461.16 387.7,500.51 388.44,489.31 389.35,538.22 390.07,562.62 390.73,545.74 391.37,550.98 391.96,542.85 392.49,543.18 393.01,476.42 393.6,548.39 394.35,544.14 395.21,541.27 395.63,547.48 396.12,531.94 396.79,540.16 397.37,537.15 398.13,551.98 399.06,490.35 399.68,543.31 400.19,516.28 401.14,550.19 401.92,516.97 402.47,506.55 403.35,519.01 404.11,547.47 404.92,526.1 405.55,537.56 406,598.93 406.21,635.08 406.39,636.09 406.64,636.37 406.81,534.31 407.48,542.99 409,561.92 410.5,629.96 412,527.9 413.5,600.48 415,539.24 417,634.5 419,555.12 421,614.08 423,516.56 425.8,459.86 427,614.08 429,505.22 431,636.76 433,539.24 436.4,437.18 437.2,607.28 438.5,500.68 440,623.16 441.5,539.24 443.1,450.79 444,584.6 445.5,478 447,634.5 449,505.22 451,591.4 453,482.54 455,623.16 457,509.76 459,573.26 461,487.08 463,607.28" stroke="#cdd0d3" stroke-width="1.05" stroke-linejoin="miter"/>
<path d="M473.18 455.25 L473.53 623.46 L473.88 455.25 M475.94 458.3 L476.34 630.45 L476.74 458.3 M485.05 456.31 L485.4 623.66 L485.75 456.31 M487.44 453.06 L487.79 623.62 L488.14 453.06 M489.77 458.3 L490.17 633.23 L490.57 458.3 M499.57 456.32 L499.92 564.29 L500.27 456.32 M501.16 457.44 L501.51 564.15 L501.86 457.44 M503.76 458.3 L504.16 629.42 L504.56 458.3 M505.7 448.55 L506.05 619.31 L506.4 448.55 M509.16 458.3 L509.56 624.34 L509.96 458.3 M516.36 451.86 L516.71 623.66 L517.06 451.86 M517.87 456.52 L518.22 528.34 L518.57 456.52 M521.16 458.3 L521.56 594.92 L521.96 458.3 M526.24 458.73 L526.59 563.87 L526.94 458.73 M528.2 450.94 L528.55 639.89 L528.9 450.94 M534.55 457.76 L534.9 582.91 L535.25 457.76 M562.5 458.3 L562.9 589.64 L563.3 458.3 M568.72 456.88 L569.07 551.1 L569.42 456.88 M576.16 458.3 L576.56 597.67 L576.96 458.3 M576.8 458.4 L577.15 576.96 L577.5 458.4 M575.84 457.86 L576.19 508.76 L576.54 457.86 M578.28 457.85 L578.63 640.64 L578.98 457.85 M581.89 458.3 L582.29 618.63 L582.69 458.3 M595.95 456.65 L596.3 635.77 L596.65 456.65 M605.73 458.3 L606.13 606.52 L606.53 458.3 M612.83 448.48 L613.18 627.82 L613.53 448.48 M614.94 458.76 L615.29 567.53 L615.64 458.76 M617.56 458.3 L617.96 640.23 L618.36 458.3 M616.75 449.6 L617.1 549.17 L617.45 449.6 M619.24 452.72 L619.59 616.93 L619.94 452.72 M626.83 458.3 L627.23 611.83 L627.63 458.3 M635.57 458.3 L635.97 608.37 L636.37 458.3 M645 456.59 L645.35 632.86 L645.7 456.59 M648.36 458.3 L648.76 589.22 L649.16 458.3 M654.76 457.21 L655.11 595.59 L655.46 457.21 M653.59 456.72 L653.94 530.83 L654.29 456.72 M657.16 453.17 L657.51 639.06 L657.86 453.17 M665.87 451.7 L666.22 633.21 L666.57 451.7 M667.97 458.3 L668.37 620.61 L668.77 458.3" stroke="#d0d2d5" stroke-width="0.9"/>
<g fill="#e3161c" stroke="none">
<rect x="134.55" y="451.05" width="2.9" height="1.9"/>
<rect x="424.35" y="458.05" width="2.9" height="1.9"/>
<rect x="434.95" y="435.05" width="2.9" height="1.9"/>
<rect x="434.95" y="456.45" width="2.9" height="1.9"/>
<rect x="441.65" y="449.45" width="2.9" height="1.9"/>
<rect x="441.65" y="452.05" width="2.9" height="1.9"/>
<rect x="441.65" y="454.55" width="2.9" height="1.9"/>
<rect x="466.9" y="426.47" width="3.0" height="3.0"/>
<rect x="467.11" y="429.11" width="3.0" height="3.0"/>
<rect x="467.59" y="435.14" width="3.0" height="3.0"/>
<rect x="468.55" y="447.26" width="3.0" height="3.0"/>
<rect x="469.21" y="455.59" width="3.0" height="3.0"/>
<rect x="468.27" y="427.4" width="3.0" height="3.0"/>
<rect x="468.53" y="430.33" width="3.0" height="3.0"/>
<rect x="469.92" y="445.72" width="3.0" height="3.0"/>
<rect x="470.22" y="448.95" width="3.0" height="3.0"/>
<rect x="470.47" y="451.78" width="3.0" height="3.0"/>
<rect x="469.63" y="434.03" width="3.0" height="3.0"/>
<rect x="469.81" y="436.87" width="3.0" height="3.0"/>
<rect x="470.56" y="449.27" width="3.0" height="3.0"/>
<rect x="470.95" y="455.67" width="3.0" height="3.0"/>
<rect x="471" y="447.17" width="3.0" height="3.0"/>
<rect x="471.34" y="450.48" width="3.0" height="3.0"/>
<rect x="471.68" y="453.75" width="3.0" height="3.0"/>
<rect x="478.7" y="418.08" width="3.0" height="3.0"/>
<rect x="478.97" y="420.89" width="3.0" height="3.0"/>
<rect x="479.27" y="424.05" width="3.0" height="3.0"/>
<rect x="479.58" y="427.32" width="3.0" height="3.0"/>
<rect x="479.88" y="430.37" width="3.0" height="3.0"/>
<rect x="480.42" y="436.07" width="3.0" height="3.0"/>
<rect x="480.71" y="439.05" width="3.0" height="3.0"/>
<rect x="480.96" y="441.67" width="3.0" height="3.0"/>
<rect x="481.28" y="445" width="3.0" height="3.0"/>
<rect x="481.54" y="447.75" width="3.0" height="3.0"/>
<rect x="481.83" y="450.73" width="3.0" height="3.0"/>
<rect x="482.09" y="453.54" width="3.0" height="3.0"/>
<rect x="482.36" y="456.33" width="3.0" height="3.0"/>
<rect x="480.48" y="425.7" width="3.0" height="3.0"/>
<rect x="481.71" y="437.36" width="3.0" height="3.0"/>
<rect x="482.04" y="440.54" width="3.0" height="3.0"/>
<rect x="482.37" y="443.68" width="3.0" height="3.0"/>
<rect x="482.94" y="449.04" width="3.0" height="3.0"/>
<rect x="483.23" y="451.84" width="3.0" height="3.0"/>
<rect x="483.55" y="454.81" width="3.0" height="3.0"/>
<rect x="482.33" y="437.11" width="3.0" height="3.0"/>
<rect x="482.36" y="440.3" width="3.0" height="3.0"/>
<rect x="482.39" y="443.34" width="3.0" height="3.0"/>
<rect x="482.42" y="446.63" width="3.0" height="3.0"/>
<rect x="482.45" y="450.01" width="3.0" height="3.0"/>
<rect x="482.48" y="453.23" width="3.0" height="3.0"/>
<rect x="484.03" y="440.53" width="3.0" height="3.0"/>
<rect x="483.95" y="443.56" width="3.0" height="3.0"/>
<rect x="483.68" y="455.25" width="3.0" height="3.0"/>
<rect x="485.8" y="443.37" width="3.0" height="3.0"/>
<rect x="485.85" y="446.26" width="3.0" height="3.0"/>
<rect x="485.9" y="448.89" width="3.0" height="3.0"/>
<rect x="485.94" y="451.56" width="3.0" height="3.0"/>
<rect x="490.9" y="417.8" width="3.0" height="3.0"/>
<rect x="490.8" y="420.99" width="3.0" height="3.0"/>
<rect x="490.72" y="423.71" width="3.0" height="3.0"/>
<rect x="490.63" y="426.46" width="3.0" height="3.0"/>
<rect x="490" y="447.03" width="3.0" height="3.0"/>
<rect x="489.9" y="450.29" width="3.0" height="3.0"/>
<rect x="489.82" y="453.04" width="3.0" height="3.0"/>
<rect x="489.73" y="455.88" width="3.0" height="3.0"/>
<rect x="492.95" y="426.1" width="3.0" height="3.0"/>
<rect x="492.52" y="444.49" width="3.0" height="3.0"/>
<rect x="492.46" y="447.31" width="3.0" height="3.0"/>
<rect x="492.39" y="450.33" width="3.0" height="3.0"/>
<rect x="492.31" y="453.4" width="3.0" height="3.0"/>
<rect x="492.25" y="456.2" width="3.0" height="3.0"/>
<rect x="495" y="430.79" width="3.0" height="3.0"/>
<rect x="494.89" y="433.58" width="3.0" height="3.0"/>
<rect x="494.77" y="436.51" width="3.0" height="3.0"/>
<rect x="494.66" y="439.5" width="3.0" height="3.0"/>
<rect x="494.55" y="442.16" width="3.0" height="3.0"/>
<rect x="494.43" y="445.25" width="3.0" height="3.0"/>
<rect x="494.33" y="447.92" width="3.0" height="3.0"/>
<rect x="494.21" y="450.94" width="3.0" height="3.0"/>
<rect x="494.08" y="454.2" width="3.0" height="3.0"/>
<rect x="493.95" y="457.43" width="3.0" height="3.0"/>
<rect x="497.53" y="448.3" width="3.0" height="3.0"/>
<rect x="497.8" y="451.54" width="3.0" height="3.0"/>
<rect x="498.07" y="454.82" width="3.0" height="3.0"/>
<rect x="499.1" y="446.23" width="3.0" height="3.0"/>
<rect x="499.3" y="449.62" width="3.0" height="3.0"/>
<rect x="499.48" y="452.72" width="3.0" height="3.0"/>
<rect x="499.66" y="455.94" width="3.0" height="3.0"/>
<rect x="503.2" y="447.06" width="3.0" height="3.0"/>
<rect x="503.42" y="449.67" width="3.0" height="3.0"/>
<rect x="503.63" y="452.33" width="3.0" height="3.0"/>
<rect x="503.89" y="455.38" width="3.0" height="3.0"/>
<rect x="504.2" y="447.05" width="3.0" height="3.0"/>
<rect x="512.4" y="431.04" width="3.0" height="3.0"/>
<rect x="512.4" y="433.7" width="3.0" height="3.0"/>
<rect x="512.4" y="442.19" width="3.0" height="3.0"/>
<rect x="512.4" y="445.12" width="3.0" height="3.0"/>
<rect x="512.41" y="448.29" width="3.0" height="3.0"/>
<rect x="512.41" y="451.35" width="3.0" height="3.0"/>
<rect x="514.39" y="444.67" width="3.0" height="3.0"/>
<rect x="514.63" y="447.49" width="3.0" height="3.0"/>
<rect x="514.86" y="450.36" width="3.0" height="3.0"/>
<rect x="515.9" y="442.8" width="3.0" height="3.0"/>
<rect x="516.01" y="445.77" width="3.0" height="3.0"/>
<rect x="516.25" y="451.99" width="3.0" height="3.0"/>
<rect x="516.37" y="455.02" width="3.0" height="3.0"/>
<rect x="519.46" y="434.94" width="3.0" height="3.0"/>
<rect x="519.28" y="447.23" width="3.0" height="3.0"/>
<rect x="519.24" y="450.18" width="3.0" height="3.0"/>
<rect x="519.19" y="453.16" width="3.0" height="3.0"/>
<rect x="519.15" y="456.12" width="3.0" height="3.0"/>
<rect x="520.99" y="437.93" width="3.0" height="3.0"/>
<rect x="520.9" y="441.24" width="3.0" height="3.0"/>
<rect x="520.83" y="444.02" width="3.0" height="3.0"/>
<rect x="520.77" y="446.69" width="3.0" height="3.0"/>
<rect x="520.7" y="449.38" width="3.0" height="3.0"/>
<rect x="520.63" y="452.03" width="3.0" height="3.0"/>
<rect x="520.55" y="455.12" width="3.0" height="3.0"/>
<rect x="522.8" y="433.05" width="3.0" height="3.0"/>
<rect x="523.06" y="436.31" width="3.0" height="3.0"/>
<rect x="523.28" y="439.07" width="3.0" height="3.0"/>
<rect x="524.23" y="450.9" width="3.0" height="3.0"/>
<rect x="524.49" y="454.15" width="3.0" height="3.0"/>
<rect x="524.74" y="457.23" width="3.0" height="3.0"/>
<rect x="524.45" y="439.23" width="3.0" height="3.0"/>
<rect x="523.87" y="454.96" width="3.0" height="3.0"/>
<rect x="523.77" y="457.62" width="3.0" height="3.0"/>
<rect x="526.1" y="437.73" width="3.0" height="3.0"/>
<rect x="526.25" y="440.73" width="3.0" height="3.0"/>
<rect x="526.4" y="443.58" width="3.0" height="3.0"/>
<rect x="526.55" y="446.41" width="3.0" height="3.0"/>
<rect x="526.7" y="449.44" width="3.0" height="3.0"/>
<rect x="532.12" y="431.22" width="3.0" height="3.0"/>
<rect x="532.97" y="442.54" width="3.0" height="3.0"/>
<rect x="533.19" y="445.46" width="3.0" height="3.0"/>
<rect x="533.42" y="448.61" width="3.0" height="3.0"/>
<rect x="533.62" y="451.33" width="3.0" height="3.0"/>
<rect x="533.88" y="454.69" width="3.0" height="3.0"/>
<rect x="532.65" y="432.91" width="3.0" height="3.0"/>
<rect x="533" y="436.17" width="3.0" height="3.0"/>
<rect x="533.32" y="439.22" width="3.0" height="3.0"/>
<rect x="533.4" y="426.56" width="3.0" height="3.0"/>
<rect x="533.36" y="429.86" width="3.0" height="3.0"/>
<rect x="533.22" y="442.06" width="3.0" height="3.0"/>
<rect x="533.19" y="444.73" width="3.0" height="3.0"/>
<rect x="533.15" y="447.52" width="3.0" height="3.0"/>
<rect x="533.12" y="450.59" width="3.0" height="3.0"/>
<rect x="533.08" y="453.56" width="3.0" height="3.0"/>
<rect x="533.05" y="456.26" width="3.0" height="3.0"/>
<rect x="542.1" y="446.95" width="3.0" height="3.0"/>
<rect x="542.39" y="449.73" width="3.0" height="3.0"/>
<rect x="542.7" y="452.7" width="3.0" height="3.0"/>
<rect x="543.02" y="455.79" width="3.0" height="3.0"/>
<rect x="543.85" y="437.16" width="3.0" height="3.0"/>
<rect x="543.74" y="440.34" width="3.0" height="3.0"/>
<rect x="543.65" y="442.97" width="3.0" height="3.0"/>
<rect x="543.55" y="445.77" width="3.0" height="3.0"/>
<rect x="543.44" y="449.09" width="3.0" height="3.0"/>
<rect x="543.34" y="451.77" width="3.0" height="3.0"/>
<rect x="543.23" y="455.14" width="3.0" height="3.0"/>
<rect x="545.6" y="440.64" width="3.0" height="3.0"/>
<rect x="545.71" y="443.66" width="3.0" height="3.0"/>
<rect x="545.82" y="446.52" width="3.0" height="3.0"/>
<rect x="545.91" y="449.24" width="3.0" height="3.0"/>
<rect x="546.02" y="452" width="3.0" height="3.0"/>
<rect x="546.14" y="455.37" width="3.0" height="3.0"/>
<rect x="555.33" y="449.26" width="3.0" height="3.0"/>
<rect x="555.47" y="452.27" width="3.0" height="3.0"/>
<rect x="555.59" y="454.91" width="3.0" height="3.0"/>
<rect x="556.15" y="436.59" width="3.0" height="3.0"/>
<rect x="556.16" y="439.24" width="3.0" height="3.0"/>
<rect x="556.17" y="442.45" width="3.0" height="3.0"/>
<rect x="556.19" y="445.62" width="3.0" height="3.0"/>
<rect x="557.4" y="443.18" width="3.0" height="3.0"/>
<rect x="557.31" y="446.44" width="3.0" height="3.0"/>
<rect x="557.24" y="449.15" width="3.0" height="3.0"/>
<rect x="557.16" y="452.28" width="3.0" height="3.0"/>
<rect x="557.08" y="455.02" width="3.0" height="3.0"/>
<rect x="565.6" y="424.84" width="3.0" height="3.0"/>
<rect x="565.78" y="428.21" width="3.0" height="3.0"/>
<rect x="565.96" y="431.6" width="3.0" height="3.0"/>
<rect x="566.1" y="434.21" width="3.0" height="3.0"/>
<rect x="566.26" y="437.33" width="3.0" height="3.0"/>
<rect x="566.43" y="440.42" width="3.0" height="3.0"/>
<rect x="566.56" y="443.02" width="3.0" height="3.0"/>
<rect x="566.73" y="446.12" width="3.0" height="3.0"/>
<rect x="566.89" y="449.19" width="3.0" height="3.0"/>
<rect x="567.06" y="452.41" width="3.0" height="3.0"/>
<rect x="567.22" y="455.38" width="3.0" height="3.0"/>
<rect x="567.3" y="422.35" width="3.0" height="3.0"/>
<rect x="567.62" y="425.55" width="3.0" height="3.0"/>
<rect x="567.88" y="428.22" width="3.0" height="3.0"/>
<rect x="569.07" y="440.27" width="3.0" height="3.0"/>
<rect x="569.33" y="442.88" width="3.0" height="3.0"/>
<rect x="569.66" y="446.2" width="3.0" height="3.0"/>
<rect x="569.95" y="449.19" width="3.0" height="3.0"/>
<rect x="570.23" y="452" width="3.0" height="3.0"/>
<rect x="570.49" y="454.65" width="3.0" height="3.0"/>
<rect x="570.77" y="457.48" width="3.0" height="3.0"/>
<rect x="569" y="428.93" width="3.0" height="3.0"/>
<rect x="570.13" y="440.54" width="3.0" height="3.0"/>
<rect x="571.01" y="449.59" width="3.0" height="3.0"/>
<rect x="571.3" y="452.6" width="3.0" height="3.0"/>
<rect x="571.63" y="455.98" width="3.0" height="3.0"/>
<rect x="570.7" y="428.58" width="3.0" height="3.0"/>
<rect x="570.66" y="431.66" width="3.0" height="3.0"/>
<rect x="570.62" y="434.79" width="3.0" height="3.0"/>
<rect x="570.58" y="438.19" width="3.0" height="3.0"/>
<rect x="570.53" y="441.52" width="3.0" height="3.0"/>
<rect x="570.37" y="454.03" width="3.0" height="3.0"/>
<rect x="570.34" y="456.81" width="3.0" height="3.0"/>
<rect x="571.8" y="420.37" width="3.0" height="3.0"/>
<rect x="572.08" y="423.33" width="3.0" height="3.0"/>
<rect x="572.94" y="432.28" width="3.0" height="3.0"/>
<rect x="573.24" y="435.45" width="3.0" height="3.0"/>
<rect x="573.55" y="438.66" width="3.0" height="3.0"/>
<rect x="573.83" y="441.59" width="3.0" height="3.0"/>
<rect x="574.1" y="444.41" width="3.0" height="3.0"/>
<rect x="574.42" y="447.73" width="3.0" height="3.0"/>
<rect x="574.73" y="450.94" width="3.0" height="3.0"/>
<rect x="575.3" y="456.9" width="3.0" height="3.0"/>
<rect x="573.54" y="422.07" width="3.0" height="3.0"/>
<rect x="573.43" y="425" width="3.0" height="3.0"/>
<rect x="573.31" y="428.3" width="3.0" height="3.0"/>
<rect x="573.22" y="431.05" width="3.0" height="3.0"/>
<rect x="573.11" y="434.03" width="3.0" height="3.0"/>
<rect x="573" y="437.12" width="3.0" height="3.0"/>
<rect x="572.67" y="446.33" width="3.0" height="3.0"/>
<rect x="572.33" y="455.8" width="3.0" height="3.0"/>
<rect x="575.47" y="427.11" width="3.0" height="3.0"/>
<rect x="575.36" y="429.75" width="3.0" height="3.0"/>
<rect x="575.02" y="438.63" width="3.0" height="3.0"/>
<rect x="574.9" y="441.91" width="3.0" height="3.0"/>
<rect x="574.78" y="444.8" width="3.0" height="3.0"/>
<rect x="574.34" y="456.36" width="3.0" height="3.0"/>
<rect x="577.3" y="424.29" width="3.0" height="3.0"/>
<rect x="577.25" y="427.11" width="3.0" height="3.0"/>
<rect x="577.21" y="429.79" width="3.0" height="3.0"/>
<rect x="577.12" y="435.36" width="3.0" height="3.0"/>
<rect x="577.07" y="438.33" width="3.0" height="3.0"/>
<rect x="577.02" y="441.72" width="3.0" height="3.0"/>
<rect x="576.98" y="444.37" width="3.0" height="3.0"/>
<rect x="576.93" y="447.41" width="3.0" height="3.0"/>
<rect x="576.88" y="450.21" width="3.0" height="3.0"/>
<rect x="576.83" y="453.09" width="3.0" height="3.0"/>
<rect x="576.78" y="456.35" width="3.0" height="3.0"/>
<rect x="578.35" y="431.26" width="3.0" height="3.0"/>
<rect x="578.54" y="434.51" width="3.0" height="3.0"/>
<rect x="579.07" y="443.75" width="3.0" height="3.0"/>
<rect x="579.24" y="446.69" width="3.0" height="3.0"/>
<rect x="579.43" y="450.07" width="3.0" height="3.0"/>
<rect x="579.62" y="453.38" width="3.0" height="3.0"/>
<rect x="579.79" y="456.19" width="3.0" height="3.0"/>
<rect x="579.81" y="436.69" width="3.0" height="3.0"/>
<rect x="579.92" y="439.67" width="3.0" height="3.0"/>
<rect x="580.01" y="442.34" width="3.0" height="3.0"/>
<rect x="580.12" y="445.34" width="3.0" height="3.0"/>
<rect x="581.04" y="426.16" width="3.0" height="3.0"/>
<rect x="580.96" y="428.89" width="3.0" height="3.0"/>
<rect x="580.85" y="432.16" width="3.0" height="3.0"/>
<rect x="580.75" y="435.28" width="3.0" height="3.0"/>
<rect x="580.67" y="437.92" width="3.0" height="3.0"/>
<rect x="580.57" y="440.86" width="3.0" height="3.0"/>
<rect x="580.47" y="444.22" width="3.0" height="3.0"/>
<rect x="580.08" y="456.19" width="3.0" height="3.0"/>
<rect x="582.82" y="424.99" width="3.0" height="3.0"/>
<rect x="583.11" y="428.11" width="3.0" height="3.0"/>
<rect x="583.37" y="430.98" width="3.0" height="3.0"/>
<rect x="583.62" y="433.74" width="3.0" height="3.0"/>
<rect x="583.89" y="436.77" width="3.0" height="3.0"/>
<rect x="584.17" y="439.82" width="3.0" height="3.0"/>
<rect x="584.42" y="442.57" width="3.0" height="3.0"/>
<rect x="584.72" y="445.82" width="3.0" height="3.0"/>
<rect x="584.5" y="427.41" width="3.0" height="3.0"/>
<rect x="584" y="438.94" width="3.0" height="3.0"/>
<rect x="583.86" y="442.28" width="3.0" height="3.0"/>
<rect x="583.72" y="445.55" width="3.0" height="3.0"/>
<rect x="583.58" y="448.63" width="3.0" height="3.0"/>
<rect x="583.45" y="451.73" width="3.0" height="3.0"/>
<rect x="583.32" y="454.59" width="3.0" height="3.0"/>
<rect x="583.19" y="457.65" width="3.0" height="3.0"/>
<rect x="595.8" y="425.3" width="3.0" height="3.0"/>
<rect x="595.67" y="428.25" width="3.0" height="3.0"/>
<rect x="595.53" y="431.29" width="3.0" height="3.0"/>
<rect x="595.39" y="434.37" width="3.0" height="3.0"/>
<rect x="595.25" y="437.51" width="3.0" height="3.0"/>
<rect x="595.11" y="440.55" width="3.0" height="3.0"/>
<rect x="594.99" y="443.25" width="3.0" height="3.0"/>
<rect x="594.84" y="446.56" width="3.0" height="3.0"/>
<rect x="594.71" y="449.4" width="3.0" height="3.0"/>
<rect x="594.57" y="452.41" width="3.0" height="3.0"/>
<rect x="594.45" y="455.15" width="3.0" height="3.0"/>
<rect x="597.33" y="429.51" width="3.0" height="3.0"/>
<rect x="597.55" y="432.74" width="3.0" height="3.0"/>
<rect x="597.73" y="435.45" width="3.0" height="3.0"/>
<rect x="597.93" y="438.47" width="3.0" height="3.0"/>
<rect x="598.52" y="447.43" width="3.0" height="3.0"/>
<rect x="598.71" y="450.26" width="3.0" height="3.0"/>
<rect x="598.91" y="453.2" width="3.0" height="3.0"/>
<rect x="599.12" y="456.38" width="3.0" height="3.0"/>
<rect x="598.87" y="430.13" width="3.0" height="3.0"/>
<rect x="599.55" y="435.89" width="3.0" height="3.0"/>
<rect x="599.94" y="439.17" width="3.0" height="3.0"/>
<rect x="600.33" y="442.39" width="3.0" height="3.0"/>
<rect x="600.68" y="445.38" width="3.0" height="3.0"/>
<rect x="601.06" y="448.51" width="3.0" height="3.0"/>
<rect x="601.45" y="451.79" width="3.0" height="3.0"/>
<rect x="601.84" y="455.08" width="3.0" height="3.0"/>
<rect x="602.16" y="457.72" width="3.0" height="3.0"/>
<rect x="600.4" y="430.63" width="3.0" height="3.0"/>
<rect x="601.02" y="441.83" width="3.0" height="3.0"/>
<rect x="601.19" y="444.95" width="3.0" height="3.0"/>
<rect x="601.36" y="447.99" width="3.0" height="3.0"/>
<rect x="609.23" y="432.67" width="3.0" height="3.0"/>
<rect x="609.48" y="435.48" width="3.0" height="3.0"/>
<rect x="610.54" y="447.44" width="3.0" height="3.0"/>
<rect x="610.79" y="450.2" width="3.0" height="3.0"/>
<rect x="611.04" y="453.08" width="3.0" height="3.0"/>
<rect x="611.31" y="456.06" width="3.0" height="3.0"/>
<rect x="609.87" y="420.58" width="3.0" height="3.0"/>
<rect x="610.04" y="423.75" width="3.0" height="3.0"/>
<rect x="610.2" y="426.69" width="3.0" height="3.0"/>
<rect x="610.37" y="429.69" width="3.0" height="3.0"/>
<rect x="610.54" y="432.78" width="3.0" height="3.0"/>
<rect x="610.7" y="435.68" width="3.0" height="3.0"/>
<rect x="610.86" y="438.6" width="3.0" height="3.0"/>
<rect x="611.01" y="441.31" width="3.0" height="3.0"/>
<rect x="611.18" y="444.26" width="3.0" height="3.0"/>
<rect x="611.33" y="446.98" width="3.0" height="3.0"/>
<rect x="611.33" y="425.45" width="3.0" height="3.0"/>
<rect x="611.53" y="428.43" width="3.0" height="3.0"/>
<rect x="611.74" y="431.52" width="3.0" height="3.0"/>
<rect x="612.13" y="437.45" width="3.0" height="3.0"/>
<rect x="612.32" y="440.35" width="3.0" height="3.0"/>
<rect x="612.5" y="443.04" width="3.0" height="3.0"/>
<rect x="612.7" y="446.02" width="3.0" height="3.0"/>
<rect x="612.9" y="449.02" width="3.0" height="3.0"/>
<rect x="613.08" y="451.84" width="3.0" height="3.0"/>
<rect x="613.26" y="454.51" width="3.0" height="3.0"/>
<rect x="613.44" y="457.26" width="3.0" height="3.0"/>
<rect x="612.8" y="428.43" width="3.0" height="3.0"/>
<rect x="612.9" y="431.53" width="3.0" height="3.0"/>
<rect x="613" y="434.73" width="3.0" height="3.0"/>
<rect x="613.2" y="441.04" width="3.0" height="3.0"/>
<rect x="613.29" y="443.85" width="3.0" height="3.0"/>
<rect x="613.68" y="455.93" width="3.0" height="3.0"/>
<rect x="614.06" y="435.75" width="3.0" height="3.0"/>
<rect x="614.34" y="438.58" width="3.0" height="3.0"/>
<rect x="614.62" y="441.53" width="3.0" height="3.0"/>
<rect x="614.94" y="444.88" width="3.0" height="3.0"/>
<rect x="615.25" y="448.1" width="3.0" height="3.0"/>
<rect x="615.85" y="430.4" width="3.0" height="3.0"/>
<rect x="616.13" y="433.47" width="3.0" height="3.0"/>
<rect x="616.37" y="436.08" width="3.0" height="3.0"/>
<rect x="616.64" y="439.1" width="3.0" height="3.0"/>
<rect x="616.92" y="442.13" width="3.0" height="3.0"/>
<rect x="617.18" y="445.03" width="3.0" height="3.0"/>
<rect x="617.45" y="448.02" width="3.0" height="3.0"/>
<rect x="617.74" y="451.22" width="3.0" height="3.0"/>
<rect x="617.9" y="432.44" width="3.0" height="3.0"/>
<rect x="617.49" y="441.01" width="3.0" height="3.0"/>
<rect x="617.34" y="444.23" width="3.0" height="3.0"/>
<rect x="617.19" y="447.23" width="3.0" height="3.0"/>
<rect x="617.04" y="450.32" width="3.0" height="3.0"/>
<rect x="616.78" y="455.89" width="3.0" height="3.0"/>
<rect x="619.95" y="436.09" width="3.0" height="3.0"/>
<rect x="620.09" y="439.06" width="3.0" height="3.0"/>
<rect x="620.23" y="441.95" width="3.0" height="3.0"/>
<rect x="620.36" y="444.62" width="3.0" height="3.0"/>
<rect x="620.52" y="447.93" width="3.0" height="3.0"/>
<rect x="620.67" y="450.95" width="3.0" height="3.0"/>
<rect x="620.8" y="453.61" width="3.0" height="3.0"/>
<rect x="622" y="434.42" width="3.0" height="3.0"/>
<rect x="622.01" y="437.72" width="3.0" height="3.0"/>
<rect x="622.01" y="440.58" width="3.0" height="3.0"/>
<rect x="622.01" y="443.52" width="3.0" height="3.0"/>
<rect x="622.02" y="446.72" width="3.0" height="3.0"/>
<rect x="622.03" y="449.97" width="3.0" height="3.0"/>
<rect x="622.03" y="453.35" width="3.0" height="3.0"/>
<rect x="622.04" y="456.31" width="3.0" height="3.0"/>
<rect x="629.4" y="438.41" width="3.0" height="3.0"/>
<rect x="629.26" y="441.39" width="3.0" height="3.0"/>
<rect x="629.13" y="444.1" width="3.0" height="3.0"/>
<rect x="628.96" y="447.48" width="3.0" height="3.0"/>
<rect x="628.7" y="452.96" width="3.0" height="3.0"/>
<rect x="628.54" y="456.31" width="3.0" height="3.0"/>
<rect x="630.5" y="442.57" width="3.0" height="3.0"/>
<rect x="630.61" y="445.7" width="3.0" height="3.0"/>
<rect x="630.72" y="448.66" width="3.0" height="3.0"/>
<rect x="630.84" y="452.05" width="3.0" height="3.0"/>
<rect x="630.95" y="455.18" width="3.0" height="3.0"/>
<rect x="631.2" y="436.05" width="3.0" height="3.0"/>
<rect x="631.34" y="439.07" width="3.0" height="3.0"/>
<rect x="631.47" y="441.72" width="3.0" height="3.0"/>
<rect x="631.6" y="444.61" width="3.0" height="3.0"/>
<rect x="631.76" y="448.01" width="3.0" height="3.0"/>
<rect x="631.89" y="450.79" width="3.0" height="3.0"/>
<rect x="638.08" y="433.81" width="3.0" height="3.0"/>
<rect x="638.06" y="436.97" width="3.0" height="3.0"/>
<rect x="638.04" y="439.68" width="3.0" height="3.0"/>
<rect x="638.02" y="442.54" width="3.0" height="3.0"/>
<rect x="637.99" y="445.93" width="3.0" height="3.0"/>
<rect x="637.97" y="449.1" width="3.0" height="3.0"/>
<rect x="637.95" y="452.05" width="3.0" height="3.0"/>
<rect x="639.77" y="434.73" width="3.0" height="3.0"/>
<rect x="639.71" y="437.4" width="3.0" height="3.0"/>
<rect x="639.64" y="440.29" width="3.0" height="3.0"/>
<rect x="639.57" y="443.23" width="3.0" height="3.0"/>
<rect x="639.5" y="446.53" width="3.0" height="3.0"/>
<rect x="639.42" y="449.8" width="3.0" height="3.0"/>
<rect x="639.35" y="453.15" width="3.0" height="3.0"/>
<rect x="641.43" y="437.04" width="3.0" height="3.0"/>
<rect x="642.85" y="449.38" width="3.0" height="3.0"/>
<rect x="643.17" y="452.16" width="3.0" height="3.0"/>
<rect x="643.5" y="455.09" width="3.0" height="3.0"/>
<rect x="643.1" y="443.09" width="3.0" height="3.0"/>
<rect x="643.29" y="446.35" width="3.0" height="3.0"/>
<rect x="643.48" y="449.63" width="3.0" height="3.0"/>
<rect x="643.66" y="452.73" width="3.0" height="3.0"/>
<rect x="643.82" y="455.51" width="3.0" height="3.0"/>
<rect x="649.4" y="433.89" width="3.0" height="3.0"/>
<rect x="649.72" y="436.91" width="3.0" height="3.0"/>
<rect x="650.01" y="439.64" width="3.0" height="3.0"/>
<rect x="650.34" y="442.65" width="3.0" height="3.0"/>
<rect x="650.64" y="445.5" width="3.0" height="3.0"/>
<rect x="651.23" y="434.14" width="3.0" height="3.0"/>
<rect x="652.08" y="443.16" width="3.0" height="3.0"/>
<rect x="652.37" y="446.27" width="3.0" height="3.0"/>
<rect x="653.26" y="455.71" width="3.0" height="3.0"/>
<rect x="653.07" y="432.98" width="3.0" height="3.0"/>
<rect x="652.92" y="436.29" width="3.0" height="3.0"/>
<rect x="652.78" y="439.64" width="3.0" height="3.0"/>
<rect x="652.09" y="455.22" width="3.0" height="3.0"/>
<rect x="654.9" y="442.25" width="3.0" height="3.0"/>
<rect x="655.14" y="445.27" width="3.0" height="3.0"/>
<rect x="655.4" y="448.46" width="3.0" height="3.0"/>
<rect x="655.66" y="451.67" width="3.0" height="3.0"/>
<rect x="662.4" y="444.42" width="3.0" height="3.0"/>
<rect x="662.5" y="447.35" width="3.0" height="3.0"/>
<rect x="662.59" y="450.11" width="3.0" height="3.0"/>
<rect x="663.3" y="443.79" width="3.0" height="3.0"/>
<rect x="663.21" y="446.53" width="3.0" height="3.0"/>
<rect x="663.12" y="449.49" width="3.0" height="3.0"/>
<rect x="663.02" y="452.79" width="3.0" height="3.0"/>
<rect x="664.2" y="443.89" width="3.0" height="3.0"/>
<rect x="664.29" y="447.01" width="3.0" height="3.0"/>
<rect x="664.37" y="450.2" width="3.0" height="3.0"/>
</g>
</g>
<polyline points="140.5,599.8 161,562.6 171.6,566.6 190.3,567.1 202.3,568.7 211.6,562 222.2,570.5 232.9,583.9 242.2,573.2 252.9,579.3 263,593.7 272.8,596.4 284.8,575.9 293.9,552.6 303.7,544.6 313.1,549.1 323.6,550.9 334,548.1 346.2,542.9 356.7,542.2 374.1,542.2 384.5,546.3 396.7,553.3 406.1,556.1 415.9,552.6 426.8,545 439.4,531.3 451.2,514.3 463.1,494.6 476.9,471 487.5,466.2 498.5,476.1 508.4,476.9 519,472.1 528.1,474.9 538.7,484.4 547.8,484.7 559.6,475.7 571.5,469 581.3,465.8 595.1,466.2 610.9,467.8 622.7,480.8 640.4,505.2" fill="none" stroke="#1c1c1c" stroke-width="1.6" stroke-linejoin="round"/>
<rect x="126.2" y="405.7" width="539.8" height="244.6" fill="none" stroke="#2a2a2a" stroke-width="1.6"/>
<line x1="114.3" y1="641.3" x2="126.2" y2="641.3" stroke="#2a2a2a" stroke-width="1.5"/>
<text x="105.8" y="648.4" text-anchor="end" font-size="22" fill="#1e1e1e">0.0</text>
<line x1="114.3" y1="595.94" x2="126.2" y2="595.94" stroke="#2a2a2a" stroke-width="1.5"/>
<text x="105.8" y="603.04" text-anchor="end" font-size="22" fill="#1e1e1e">0.2</text>
<line x1="114.3" y1="550.58" x2="126.2" y2="550.58" stroke="#2a2a2a" stroke-width="1.5"/>
<text x="105.8" y="557.68" text-anchor="end" font-size="22" fill="#1e1e1e">0.4</text>
<line x1="114.3" y1="505.22" x2="126.2" y2="505.22" stroke="#2a2a2a" stroke-width="1.5"/>
<text x="105.8" y="512.32" text-anchor="end" font-size="22" fill="#1e1e1e">0.6</text>
<line x1="114.3" y1="459.86" x2="126.2" y2="459.86" stroke="#2a2a2a" stroke-width="1.5"/>
<text x="105.8" y="466.96" text-anchor="end" font-size="22" fill="#1e1e1e">0.8</text>
<line x1="114.3" y1="414.5" x2="126.2" y2="414.5" stroke="#2a2a2a" stroke-width="1.5"/>
<text x="105.8" y="421.6" text-anchor="end" font-size="22" fill="#1e1e1e">1.0</text>
<line x1="146.3" y1="650.3" x2="146.3" y2="662.1" stroke="#2a2a2a" stroke-width="1.5"/>
<text x="146.3" y="690.4" text-anchor="middle" font-size="22" fill="#1e1e1e">25,000,000</text>
<line x1="217.75" y1="650.3" x2="217.75" y2="662.1" stroke="#2a2a2a" stroke-width="1.5"/>
<line x1="289.2" y1="650.3" x2="289.2" y2="662.1" stroke="#2a2a2a" stroke-width="1.5"/>
<text x="289.2" y="690.4" text-anchor="middle" font-size="22" fill="#1e1e1e">26,000,000</text>
<line x1="360.65" y1="650.3" x2="360.65" y2="662.1" stroke="#2a2a2a" stroke-width="1.5"/>
<line x1="432.1" y1="650.3" x2="432.1" y2="662.1" stroke="#2a2a2a" stroke-width="1.5"/>
<text x="432.1" y="690.4" text-anchor="middle" font-size="22" fill="#1e1e1e">27,000,000</text>
<line x1="503.55" y1="650.3" x2="503.55" y2="662.1" stroke="#2a2a2a" stroke-width="1.5"/>
<line x1="575" y1="650.3" x2="575" y2="662.1" stroke="#2a2a2a" stroke-width="1.5"/>
<text x="575" y="690.4" text-anchor="middle" font-size="22" fill="#1e1e1e">28,000,000</text>
<line x1="646.45" y1="650.3" x2="646.45" y2="662.1" stroke="#2a2a2a" stroke-width="1.5"/>
<text x="372.5" y="727" text-anchor="middle" font-size="22" fill="#1e1e1e">Chromosome 6</text>
<text transform="translate(61.2 529.75) rotate(-90)" text-anchor="middle" font-size="22.5" fill="#1e1e1e">Bonobo external</text>
<text x="0" y="428" font-size="26" font-weight="bold" fill="#111">b</text>
</svg>
</body></html>
